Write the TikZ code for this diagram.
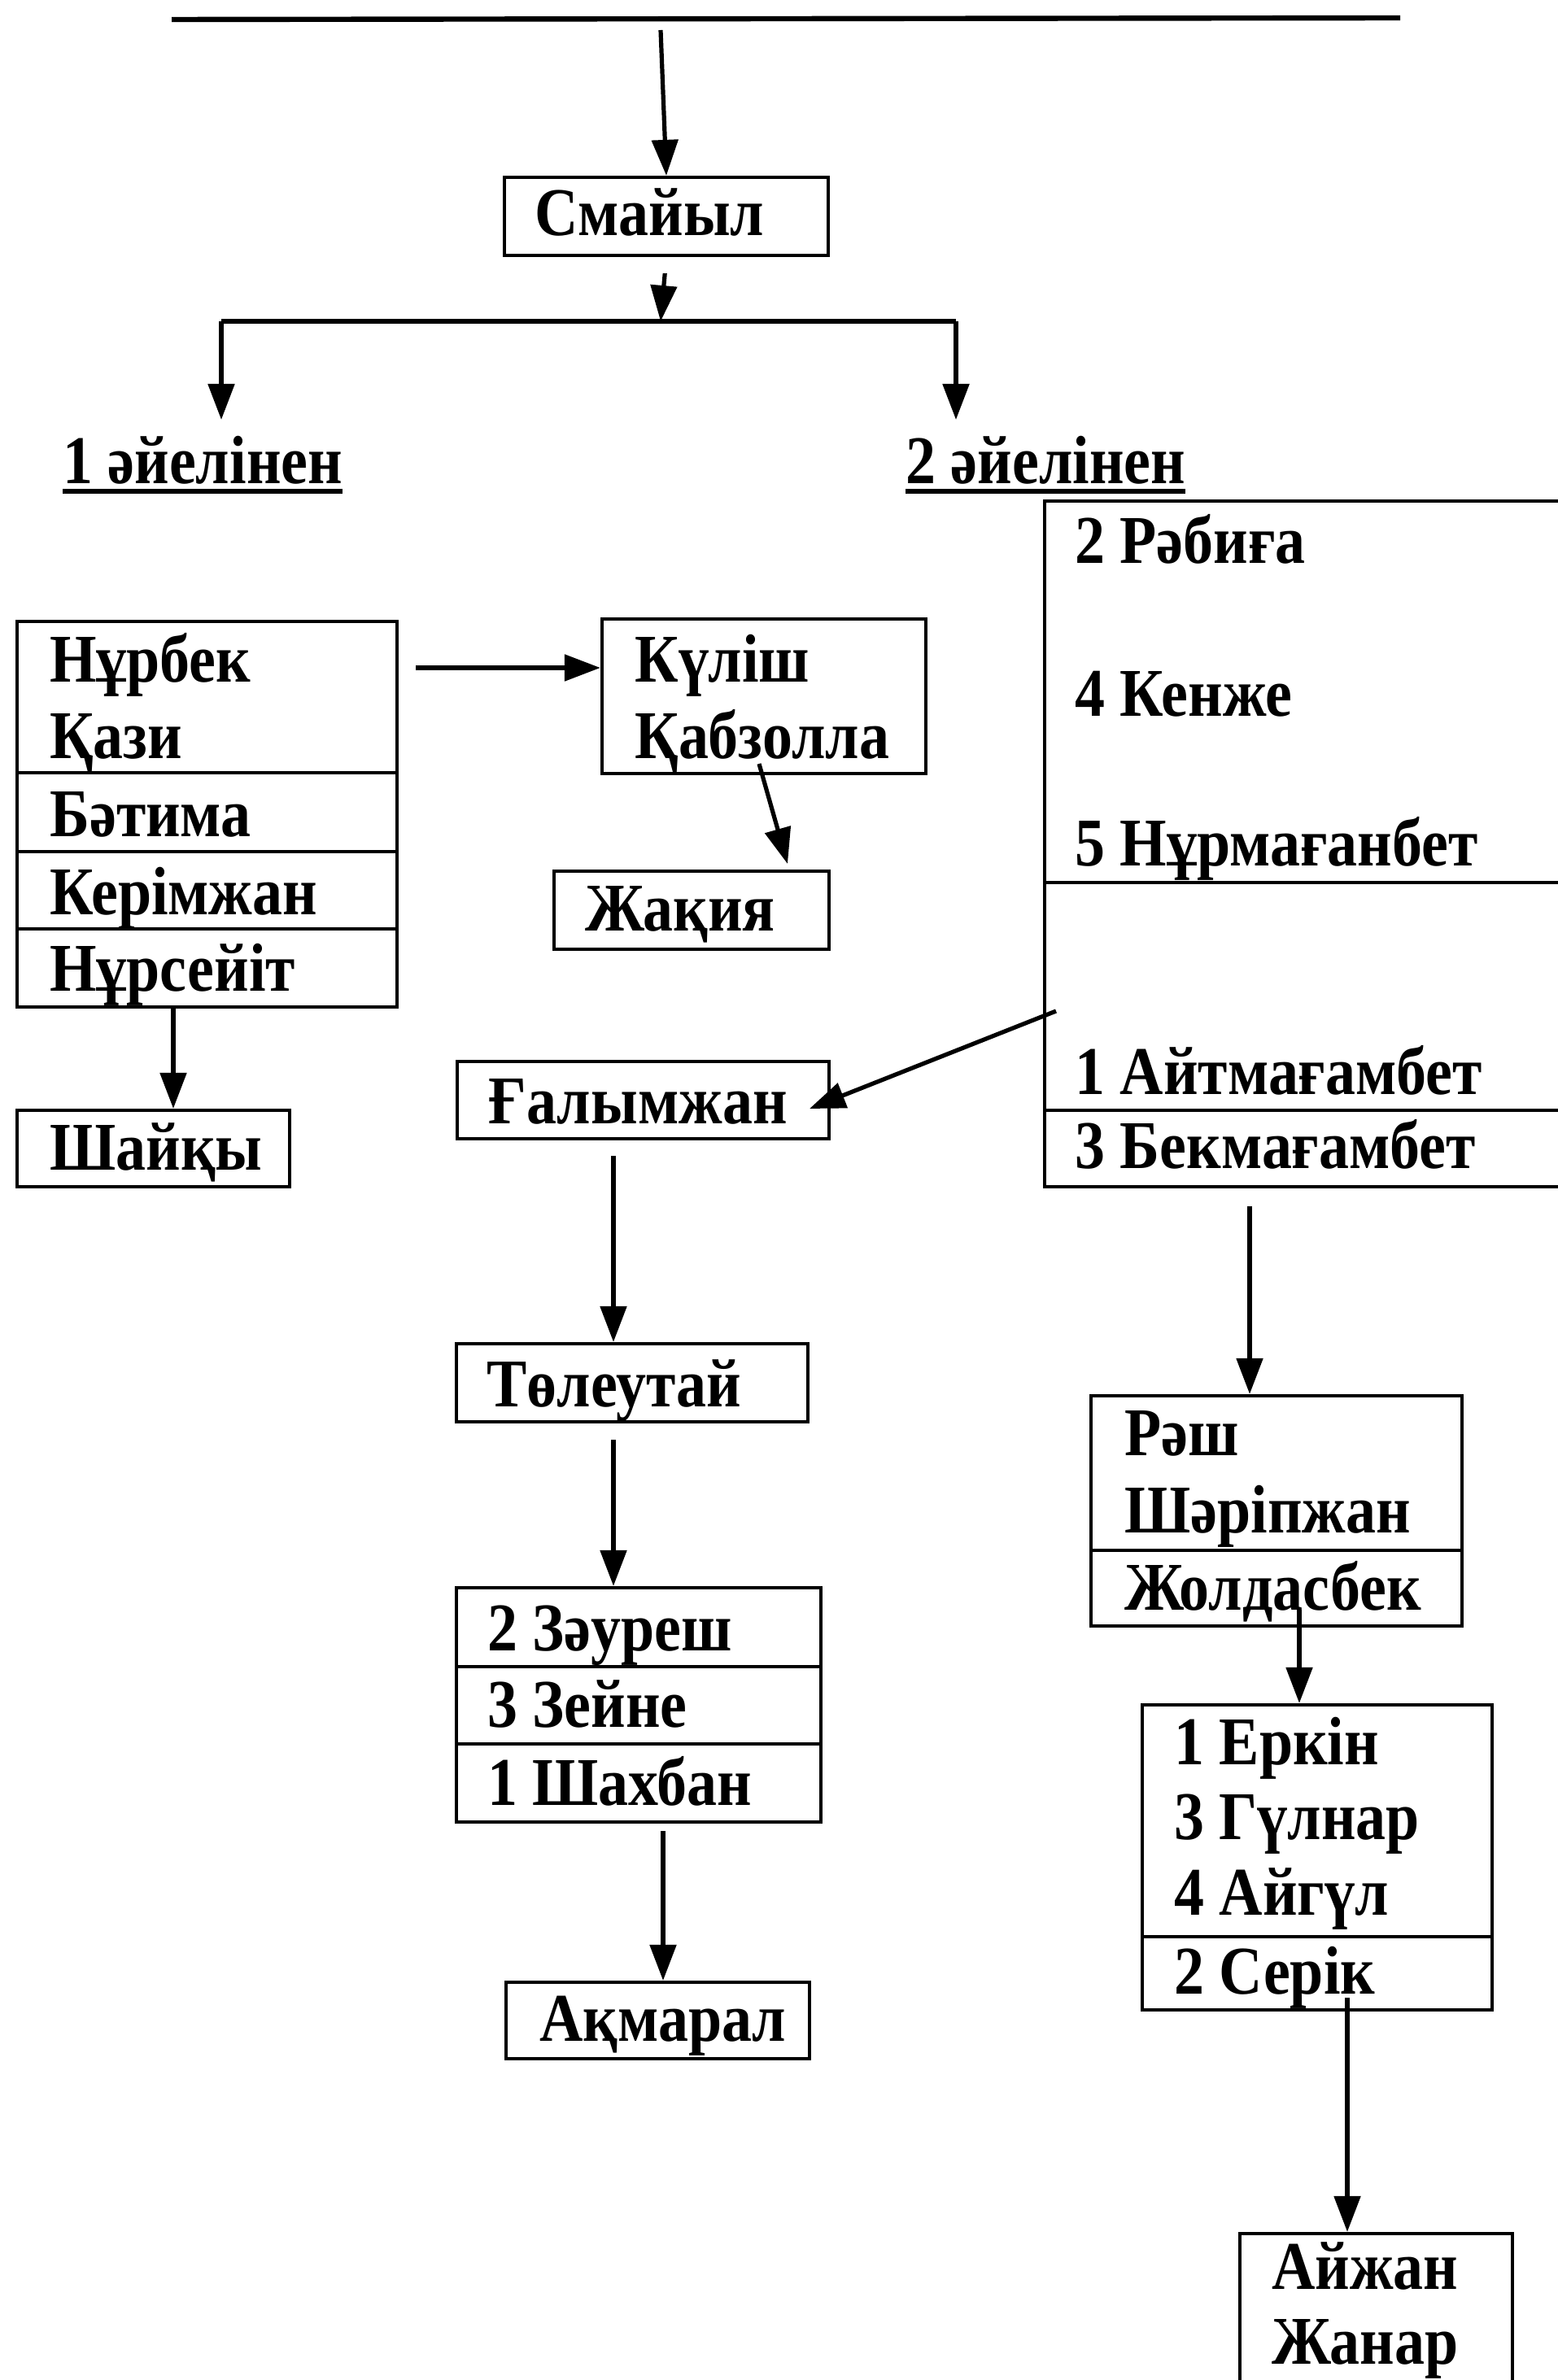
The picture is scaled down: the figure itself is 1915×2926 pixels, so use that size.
\documentclass[tikz,border=0pt]{standalone}
\usepackage{fontspec}
\setmainfont[FakeStretch=0.88]{Liberation Serif}
\usetikzlibrary{arrows.meta,fit,calc}
\begin{document}
\begin{tikzpicture}[x=0.5pt,y=-0.5pt,
  box/.style={draw,line width=2.1pt,inner sep=0pt},
  txt/.style={anchor=base west,inner sep=0pt,font=\fontsize{42}{48}\selectfont\bfseries},
  arr/.style={line width=2.6pt,-{Triangle[length=22pt,width=16pt]}},
  plain/.style={line width=2.6pt},
  divider/.style={line width=1.8pt},
  ul/.style={line width=2.8pt}]
\useasboundingbox (0,0) rectangle (1915,2926);

% top line
\coordinate (tl) at (211,24);
\coordinate (tr) at (1721,22);
\draw[line width=3.2pt] (tl) -- (tr);
\coordinate (t0) at (812,37);

% Smaiyl
\node[box,fit={(620,218)(1018,314)}] (S) {};
\node[txt] (St) at (657,290) {Смайыл};
\draw[arr] (t0) -- (S.north);

% branch
\coordinate (br) at (812,395);
\coordinate (bl) at (272,395);
\coordinate (bR) at (1175,395);
\draw[arr,shorten <=10pt] (S.south) -- (br);
\draw[plain] (bl) -- (bR);
\coordinate (w1a) at (272,516);
\coordinate (w2a) at (1175,516);
\draw[arr] (bl) -- (w1a);
\draw[arr] (bR) -- (w2a);

% wives labels
\node[txt] (w1) at (77,594) {1 әйелінен};
\node[txt] (w2) at (1113,594) {2 әйелінен};
\draw[ul] ([yshift=-5pt]w1.base west) -- ([yshift=-5pt]w1.base east);
\draw[ul] ([yshift=-5pt]w2.base west) -- ([yshift=-5pt]w2.base east);

% left big box
\node[box,fit={(21,764)(488,1238)}] (L) {};
\draw[divider] (21,950) -- (488,950);
\draw[divider] (21,1047) -- (488,1047);
\draw[divider] (21,1142) -- (488,1142);
\node[txt] (L1) at (61,838) {Нұрбек};
\node[txt] (L2) at (61,932) {Қази};
\node[txt] (L3) at (61,1028) {Бәтима};
\node[txt] (L4) at (61,1124) {Керімжан};
\node[txt] (L5) at (61,1218) {Нұрсейіт};

% Kulish box
\node[box,fit={(740,761)(1138,951)}] (K) {};
\node[txt] (K1) at (780,838) {Күліш};
\node[txt] (K2) at (780,932) {Қабзолла};
\coordinate (a1) at (511,821);
\draw[arr] (a1) -- (a1 -| K.west);

% Zhakiya
\node[box,fit={(681,1071)(1019,1167)}] (J) {};
\node[txt] (Jt) at (719,1144) {Жақия};
\coordinate (a2s) at (933,939);
\coordinate (a2e) at (968,1062);
\draw[arr] (a2s) -- (a2e);

% Shaiky
\node[box,fit={(21,1365)(356,1459)}] (Sh) {};
\node[txt] (Sht) at (61,1438) {Шайқы};
\coordinate (a3) at (213,1238);
\draw[arr] (a3) -- (a3 |- Sh.north);

% right big box
\node[box,fit={(1284,616)(1935,1459)}] (R) {};
\draw[divider] (1284,1085) -- (1935,1085);
\draw[divider] (1284,1365) -- (1935,1365);
\node[txt] (R1) at (1321,692) {2 Рәбиға};
\node[txt] (R2) at (1321,880) {4 Кенже};
\node[txt] (R3) at (1321,1064) {5 Нұрмағанбет};
\node[txt] (R4) at (1321,1345) {1 Айтмағамбет};
\node[txt] (R5) at (1321,1436) {3 Бекмағамбет};

% Galymzhan
\node[box,fit={(562,1305)(1019,1400)}] (G) {};
\node[txt] (Gt) at (600,1381) {Ғалымжан};
\coordinate (a4s) at (1298,1243);
\coordinate (a4e) at (995,1363);
\draw[arr] (a4s) -- (a4e);

% Toleutai
\node[box,fit={(561,1652)(993,1748)}] (T) {};
\node[txt] (Tt) at (598,1729) {Төлеутай};
\coordinate (a5) at (754,1421);
\draw[arr] (a5) -- (a5 |- T.north);

% Zauresh box
\node[box,fit={(561,1952)(1009,2240)}] (Z) {};
\draw[divider] (561,2049) -- (1009,2049);
\draw[divider] (561,2144) -- (1009,2144);
\node[txt] (Z1) at (599,2029) {2 Зәуреш};
\node[txt] (Z2) at (599,2123) {3 Зейне};
\node[txt] (Z3) at (599,2219) {1 Шахбан};
\coordinate (a6) at (754,1770);
\draw[arr] (a6) -- (a6 |- Z.north);

% Akmaral
\node[box,fit={(622,2437)(995,2531)}] (A) {};
\node[txt] (At) at (663,2509) {Ақмарал};
\coordinate (a7) at (815,2251);
\draw[arr] (a7) -- (a7 |- A.north);

% Rash box
\node[box,fit={(1341,1716)(1797,1999)}] (P) {};
\draw[divider] (1341,1906) -- (1797,1906);
\node[txt] (P1) at (1382,1789) {Рәш};
\node[txt] (P2) at (1382,1884) {Шәріпжан};
\node[txt] (P3) at (1382,1979) {Жолдасбек};
\coordinate (a8) at (1536,1483);
\draw[arr] (a8) -- (a8 |- P.north);

% Erkin box
\node[box,fit={(1404,2096)(1834,2471)}] (E) {};
\draw[divider] (1404,2381) -- (1834,2381);
\node[txt] (E1) at (1443,2169) {1 Еркін};
\node[txt] (E2) at (1443,2261) {3 Гүлнар};
\node[txt] (E3) at (1443,2354) {4 Айгүл};
\node[txt] (E4) at (1443,2451) {2 Серік};
\coordinate (a9) at (1597,1979);
\draw[arr] (a9) -- (a9 |- E.north);

% Aizhan box
\node[box,fit={(1524,2746)(1859,2960)}] (Y) {};
\node[txt] (Y1) at (1563,2814) {Айжан};
\node[txt] (Y2) at (1563,2906) {Жанар};
\coordinate (a10) at (1656,2456);
\draw[arr] (a10) -- (a10 |- Y.north);
\end{tikzpicture}
\end{document}
